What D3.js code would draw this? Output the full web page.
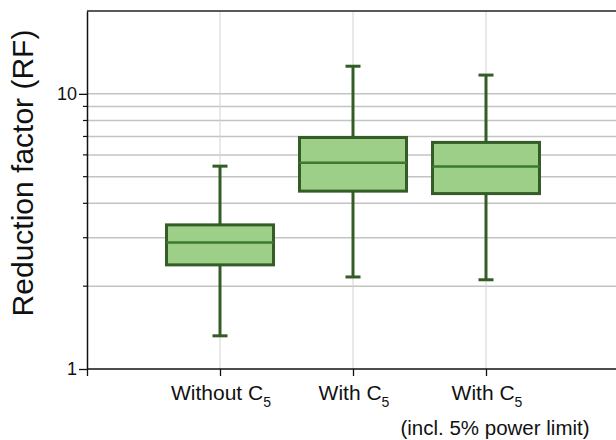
<!DOCTYPE html>
<html>
<head>
<meta charset="utf-8">
<script src="https://cdn.jsdelivr.net/npm/d3@7"></script>
<style>
  html, body { margin: 0; padding: 0; background: #fff; }
  svg { display: block; font-family: "Liberation Sans", Arial, sans-serif; }
</style>
</head>
<body>
<svg id="chart" width="616" height="440"></svg>
<script>
// Box-plot statistics for each configuration (reduction factor, log scale)
const categories = ["Without C5", "With C5", "With C5 (incl. 5% power limit)"];
const whiskerLow  = [1.32, 2.16, 2.11];
const quartile1   = [2.39, 4.43, 4.34];
const medians     = [2.88, 5.62, 5.44];
const quartile3   = [3.34, 6.94, 6.66];
const whiskerHigh = [5.46, 12.6, 11.7];

const majorTicks = [1, 10];
const minorTicks = [2, 3, 4, 5, 6, 7, 8, 9];

const svg = d3.select("#chart");
const margin = { left: 87, top: 11, right: 619, bottom: 369 };

const y = d3.scaleLog().domain([1, 20]).range([margin.bottom, margin.top]);
const x = d3.scaleLinear().domain([0, categories.length + 1]).range([margin.left, margin.right]);

const boxHalf = 53.5;
const capHalf = 7.5;

// horizontal grid lines
svg.append("g")
  .selectAll("line")
  .data(minorTicks.concat([10]))
  .join("line")
  .attr("x1", margin.left).attr("x2", 616)
  .attr("y1", d => y(d)).attr("y2", d => y(d))
  .attr("stroke", "#c4c4c4").attr("stroke-width", 1.5);

// vertical grid lines at category positions
svg.append("g")
  .selectAll("line")
  .data(categories)
  .join("line")
  .attr("x1", (d, i) => x(i + 1)).attr("x2", (d, i) => x(i + 1))
  .attr("y1", margin.top).attr("y2", margin.bottom)
  .attr("stroke", "#d2d2d2").attr("stroke-width", 1);

// top frame line
svg.append("line")
  .attr("x1", margin.left).attr("x2", 616)
  .attr("y1", margin.top).attr("y2", margin.top)
  .attr("stroke", "#222").attr("stroke-width", 1.5);

// y axis: major ticks with labels, minor ticks without
const yAxis = d3.axisLeft(y).tickValues(majorTicks).tickFormat(d3.format("d")).tickSize(8).tickSizeOuter(0);
const gy = svg.append("g").attr("transform", `translate(${margin.left},0)`).call(yAxis);
gy.select(".domain").attr("stroke", "#111").attr("stroke-width", 1.5);
gy.selectAll(".tick line").attr("stroke", "#111").attr("stroke-width", 1.3);
gy.selectAll(".tick text").attr("font-size", 18).attr("fill", "#111")
  .attr("font-family", "Liberation Sans, Arial, sans-serif").attr("x", -10);

svg.append("g")
  .selectAll("line")
  .data(minorTicks)
  .join("line")
  .attr("x1", margin.left - 4).attr("x2", margin.left)
  .attr("y1", d => y(d)).attr("y2", d => y(d))
  .attr("stroke", "#111").attr("stroke-width", 1.2);

// x axis
const xAxis = d3.axisBottom(x).tickValues([0, 1, 2, 3]).tickFormat("").tickSize(7).tickSizeOuter(0);
const gx = svg.append("g").attr("transform", `translate(0,${margin.bottom})`).call(xAxis);
gx.select(".domain").attr("stroke", "#111").attr("stroke-width", 1.5).attr("d", `M${margin.left},0H616`);
gx.selectAll(".tick line").attr("stroke", "#111").attr("stroke-width", 1.3);

// category labels with subscript 5
const labelLines = [["Without C", ""], ["With C", ""], ["With C", "(incl. 5% power limit)"]];
labelLines.forEach((parts, i) => {
  const t = svg.append("text")
    .attr("x", x(i + 1) + 1).attr("y", 400)
    .attr("text-anchor", "middle").attr("font-size", 21).attr("fill", "#111");
  t.append("tspan").text(parts[0]);
  t.append("tspan").attr("font-size", 14).attr("dy", 7).text("5");
  if (parts[1]) {
    svg.append("text")
      .attr("x", x(i + 1) + 9).attr("y", 435)
      .attr("text-anchor", "middle").attr("font-size", 20.5).attr("fill", "#111")
      .text(parts[1]);
  }
});

// y axis title
svg.append("text")
  .attr("transform", `translate(33,173) rotate(-90)`)
  .attr("text-anchor", "middle")
  .attr("font-size", 30).attr("fill", "#111")
  .text("Reduction factor (RF)");

// boxes
const stroke = "#335c26";
const boxes = svg.append("g").selectAll("g")
  .data(categories.map((c, i) => ({ i, lo: whiskerLow[i], q1: quartile1[i], med: medians[i], q3: quartile3[i], hi: whiskerHigh[i] })))
  .join("g");

boxes.append("line")
  .attr("x1", d => x(d.i + 1)).attr("x2", d => x(d.i + 1))
  .attr("y1", d => y(d.hi)).attr("y2", d => y(d.q3))
  .attr("stroke", stroke).attr("stroke-width", 3);
boxes.append("line")
  .attr("x1", d => x(d.i + 1)).attr("x2", d => x(d.i + 1))
  .attr("y1", d => y(d.q1)).attr("y2", d => y(d.lo))
  .attr("stroke", stroke).attr("stroke-width", 3);
boxes.append("line")
  .attr("x1", d => x(d.i + 1) - capHalf).attr("x2", d => x(d.i + 1) + capHalf)
  .attr("y1", d => y(d.hi)).attr("y2", d => y(d.hi))
  .attr("stroke", stroke).attr("stroke-width", 3);
boxes.append("line")
  .attr("x1", d => x(d.i + 1) - capHalf).attr("x2", d => x(d.i + 1) + capHalf)
  .attr("y1", d => y(d.lo)).attr("y2", d => y(d.lo))
  .attr("stroke", stroke).attr("stroke-width", 3);
boxes.append("rect")
  .attr("x", d => x(d.i + 1) - boxHalf).attr("width", boxHalf * 2)
  .attr("y", d => y(d.q3)).attr("height", d => y(d.q1) - y(d.q3))
  .attr("fill", "#9dcf89").attr("stroke", stroke).attr("stroke-width", 3);
boxes.append("line")
  .attr("x1", d => x(d.i + 1) - boxHalf).attr("x2", d => x(d.i + 1) + boxHalf)
  .attr("y1", d => y(d.med)).attr("y2", d => y(d.med))
  .attr("stroke", "#3d7a30").attr("stroke-width", 2.5);
</script>
</body>
</html>
